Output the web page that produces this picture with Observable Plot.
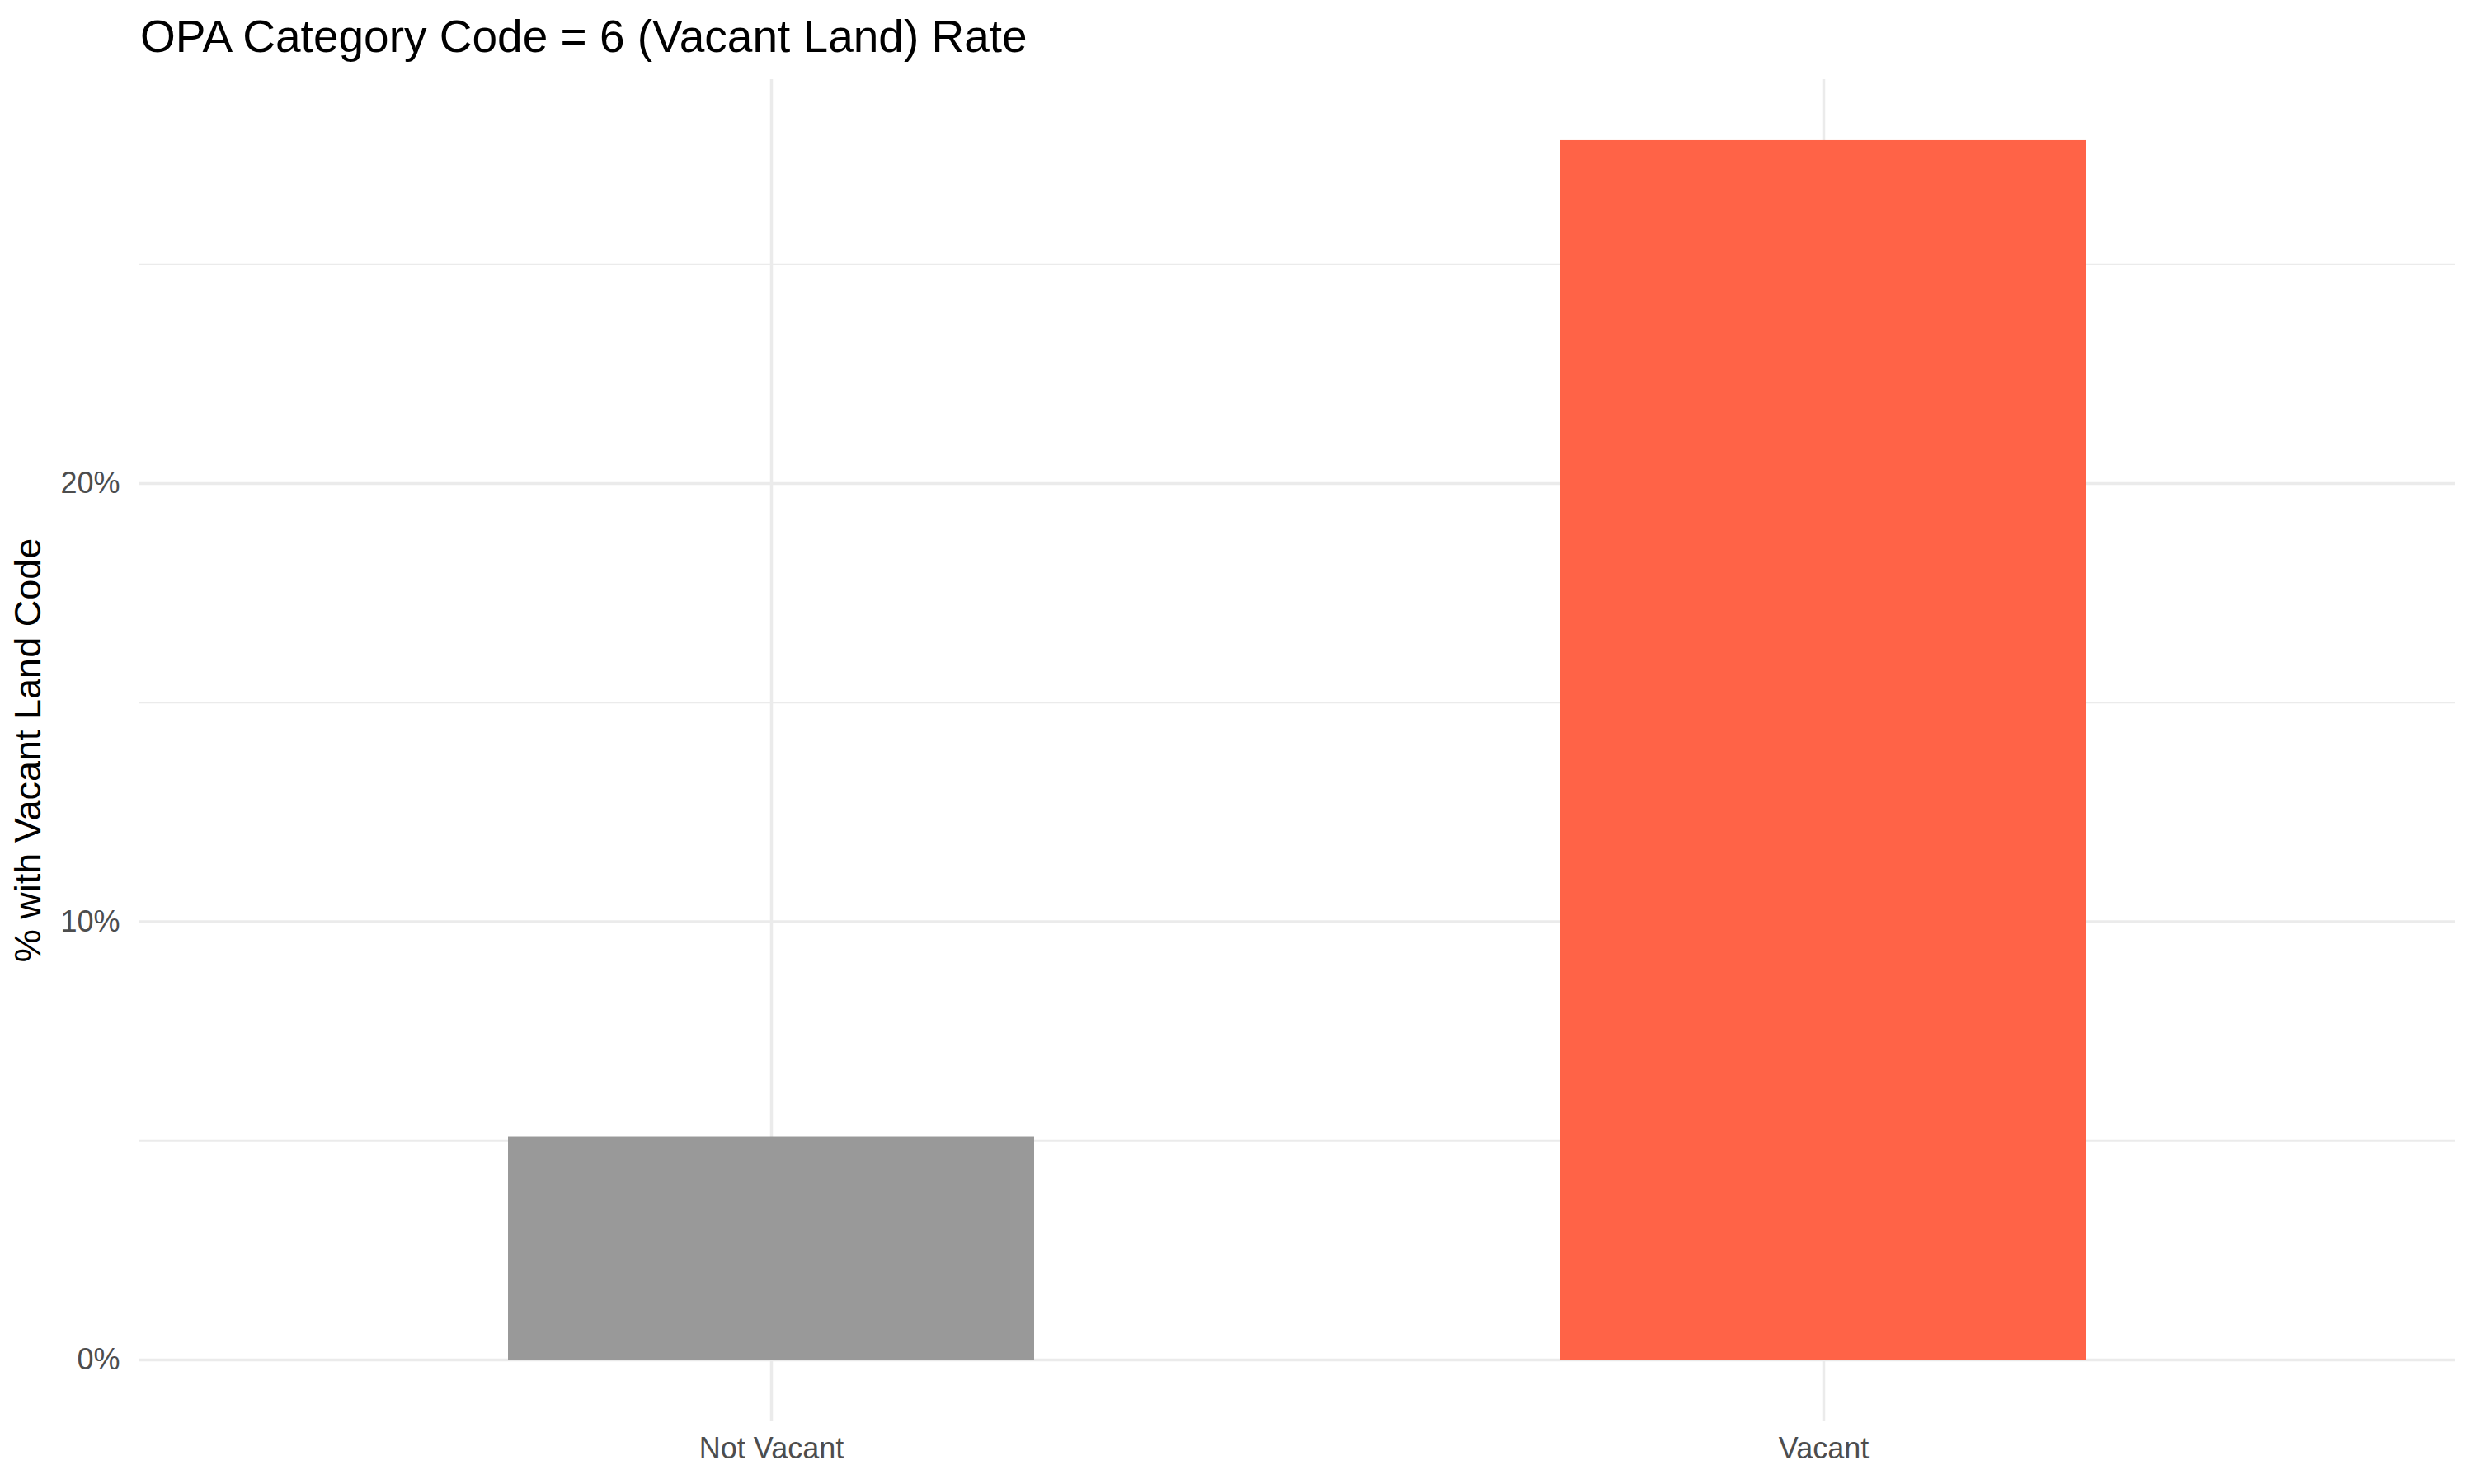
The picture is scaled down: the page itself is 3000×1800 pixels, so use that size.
<!DOCTYPE html>
<html>
<head>
<meta charset="utf-8">
<script src="https://cdn.jsdelivr.net/npm/d3@7"></script>
<script src="https://cdn.jsdelivr.net/npm/@observablehq/plot@0.6"></script>
<style>
  html, body { margin: 0; padding: 0; background: #fff; }
  body { width: 3000px; height: 1800px; overflow: hidden; font-family: "Liberation Sans", Arial, sans-serif; }
  #title { height: 72px; padding: 17px 0 0 170px; font-size: 55px; line-height: 55px; color: #000; white-space: nowrap; box-sizing: content-box; }
  #chart svg { display: block; }
</style>
</head>
<body>
<div id="title">OPA Category Code = 6 (Vacant Land) Rate</div>
<div id="chart"></div>
<script>
const categories = ["Not Vacant", "Vacant"];
const rates = [5.09, 27.83];
const barColors = ["#999999", "#FF6347"];
const majorTicks = [0, 10, 20];
const minorTicks = [5, 15, 25];
const yTitle = "% with Vacant Land Code";

const data = categories.map((c, i) => ({category: c, rate: rates[i], color: barColors[i]}));
const maxV = d3.max(rates);
const pad = maxV * 0.05;

const chart = Plot.plot({
  width: 3000,
  height: 1711,
  marginTop: 7,
  marginBottom: 77,
  marginLeft: 169,
  marginRight: 23,
  style: {fontFamily: "Liberation Sans, Arial, sans-serif", background: "#fff"},
  x: {domain: categories, padding: 0.5, paddingOuter: 0.35, label: null},
  y: {domain: [-pad, maxV + pad], label: null},
  marks: [
    Plot.ruleY(minorTicks, {y: d => d, stroke: "#ebebeb", strokeWidth: 2}),
    Plot.ruleY(majorTicks, {y: d => d, stroke: "#ebebeb", strokeWidth: 3.5}),
    Plot.ruleX(categories, {x: d => d, stroke: "#ebebeb", strokeWidth: 3.5}),
    Plot.barY(data, {x: "category", y: "rate", fill: "color"}),
    Plot.axisY({ticks: majorTicks, tickFormat: d => d + "%", tickSize: 0, tickPadding: 24,
      fontSize: 36, fill: "#4d4d4d", label: null}),
    Plot.axisX({tickSize: 0, tickPadding: 20, fontSize: 36, fill: "#4d4d4d", label: null}),
    Plot.text([yTitle], {frameAnchor: "left", text: d => d, rotate: -90, dx: -135,
      fontSize: 45, fill: "#000", textAnchor: "middle"})
  ]
});
document.getElementById("chart").appendChild(chart);
</script>
</body>
</html>
